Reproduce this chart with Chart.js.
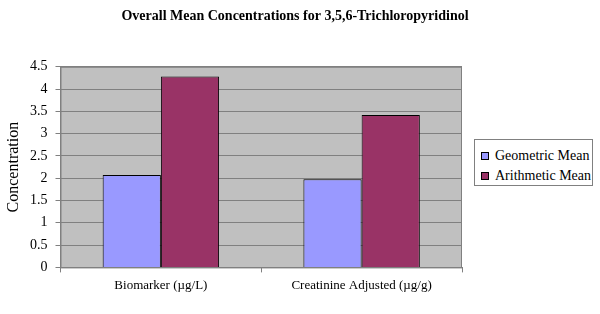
<!DOCTYPE html>
<html>
<head>
<meta charset="utf-8">
<script src="https://cdn.jsdelivr.net/npm/chart.js@4"></script>
<style>
  html, body { margin: 0; padding: 0; background: #fff; }
  #wrap { position: relative; width: 600px; height: 314px; }
  #leyenda {
    position: absolute; left: 474px; top: 139px; width: 119px; height: 47px;
    border: 1px solid #808080; background: #fff;
    font-family: 'Liberation Serif', 'Times New Roman', serif; font-size: 14px; color: #000;
    box-sizing: border-box; padding-top: 8px;
  }
  #leyenda div { height: 20px; line-height: 16px; white-space: nowrap; padding-left: 6px; }
  #leyenda span.caja {
    display: inline-block; width: 6px; height: 6px; border: 1px solid #000;
    margin-right: 6px; vertical-align: 0px;
  }
</style>
</head>
<body>
<div id="wrap">
  <canvas id="grafico" width="600" height="314"></canvas>
  <div id="leyenda"></div>
</div>
<script>
const categorias = ["Biomarker (\u00b5g/L)", "Creatinine Adjusted (\u00b5g/g)"];
const mediaGeometrica = [2.07, 1.98];
const mediaAritmetica = [4.28, 3.42];
const ticksY = [0, 0.5, 1, 1.5, 2, 2.5, 3, 3.5, 4, 4.5];

const fuente = "'Liberation Serif', 'Times New Roman', serif";

// fondo gris del área del gráfico y borde
const fondoGris = {
  id: "fondoGris",
  beforeDraw(chart) {
    const { ctx, chartArea: a } = chart;
    ctx.save();
    ctx.fillStyle = "#c0c0c0";
    ctx.fillRect(a.left, a.top, a.right - a.left, a.bottom - a.top);
    ctx.restore();
  },
  afterDatasetsDraw(chart) {
    const { ctx, chartArea: a } = chart;
    ctx.save();
    ctx.strokeStyle = "#808080";
    ctx.lineWidth = 1;
    ctx.strokeRect(a.left + 0.5, a.top + 0.5, a.right - a.left - 1, a.bottom - a.top);
    ctx.restore();
  },
};

const grafico = new Chart(document.getElementById("grafico"), {
  type: "bar",
  data: {
    labels: categorias,
    datasets: [
      {
        label: "Geometric Mean",
        data: mediaGeometrica,
        backgroundColor: "#9999ff",
        borderColor: "#000000",
        borderWidth: 1,
      },
      {
        label: "Arithmetic Mean",
        data: mediaAritmetica,
        backgroundColor: "#993366",
        borderColor: "#000000",
        borderWidth: 1,
      },
    ],
  },
  options: {
    responsive: false,
    animation: false,
    layout: { padding: { top: 8, right: 16, bottom: 16, left: 6 } },
    datasets: {
      bar: { categoryPercentage: 0.58, barPercentage: 1 },
    },
    plugins: {
      title: {
        display: true,
        text: "Overall Mean Concentrations for 3,5,6-Trichloropyridinol",
        color: "#000",
        font: { family: fuente, size: 14, weight: "bold" },
        padding: { top: 0, bottom: 42 },
      },
      legend: { display: false },
      tooltip: { enabled: false },
    },
    scales: {
      x: {
        grid: {
          offset: true,
          drawOnChartArea: false,
          drawTicks: true,
          tickLength: 5,
          color: "#808080",
        },
        border: { color: "#808080" },
        ticks: {
          color: "#000",
          font: { family: fuente, size: 13 },
          padding: 5,
        },
      },
      y: {
        min: 0,
        max: 4.5,
        afterBuildTicks(scale) {
          scale.ticks = ticksY.map((v) => ({ value: v }));
        },
        grid: { color: "#808080", tickLength: 5 },
        border: { color: "#808080" },
        ticks: {
          color: "#000",
          font: { family: fuente, size: 14 },
          padding: 8,
          callback: (v) => String(v),
        },
        title: {
          display: true,
          text: "Concentration",
          color: "#000",
          font: { family: fuente, size: 16, lineHeight: 1 },
          padding: { top: 0, bottom: 0 },
        },
      },
      // eje vacío a la derecha: reserva el espacio de la leyenda
      hueco: {
        position: "right",
        display: true,
        grid: { display: false },
        border: { display: false },
        ticks: { display: false },
        afterFit(scale) {
          scale.width = 122;
        },
      },
    },
  },
  plugins: [fondoGris],
});

// Leyenda en HTML a partir de los datasets
const leyenda = document.getElementById("leyenda");
grafico.data.datasets.forEach((ds) => {
  const fila = document.createElement("div");
  const caja = document.createElement("span");
  caja.className = "caja";
  caja.style.background = ds.backgroundColor;
  fila.appendChild(caja);
  fila.appendChild(document.createTextNode(ds.label));
  leyenda.appendChild(fila);
});
</script>
</body>
</html>
